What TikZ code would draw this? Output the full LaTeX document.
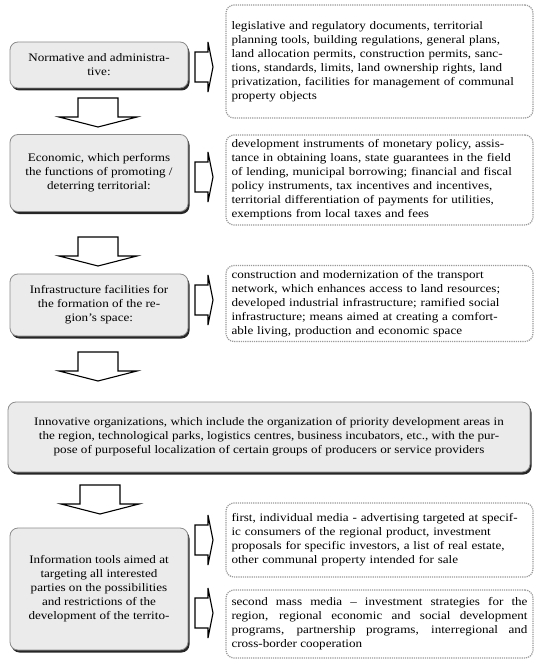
\documentclass[tikz,border=0pt]{standalone}
\usepackage{fontspec}
\setmainfont[FakeStretch=1.14]{Liberation Serif}
\usetikzlibrary{shadows}

\begin{document}
\begin{tikzpicture}[x=1pt,y=-1pt,thick,
  every node/.style={font=\fontsize{11.5}{14}\selectfont},
  tool/.style={draw=black!45,fill=black!8,rounded corners=8pt,align=center,minimum width=178pt,
    drop shadow={shadow xshift=1.5pt,shadow yshift=-2.5pt,fill=black!85,opacity=1}},
  means/.style={draw=black!40,line width=1.2pt,densely dotted,rounded corners=8pt,fill=white,
    align=left,text width=296pt,minimum width=307pt,inner xsep=4pt},
  rarrow/.pic={\draw[line width=1.1pt,fill=white,line join=miter]
    (0,0) -- (-5,-25) -- (-5,-15) -- (-18,-15) -- (-18,15) -- (-5,15) -- (-5,25) -- cycle;},
  darrow/.pic={\draw[line width=1.1pt,fill=white,line join=miter]
    (0,0) -- (-39,-10) -- (-20,-10) -- (-20,-29) -- (20,-29) -- (20,-10) -- (39,-10) -- cycle;}]
  \useasboundingbox (0,0) rectangle (537,663);

  \node[tool,minimum height=46pt] (l1) at (99,65) {Normative and administra-\\tive:};
  \node[tool,minimum height=77pt] (l2) at (99,173) {Economic, which performs\\the functions of promoting /\\deterring territorial:};
  \node[tool,minimum height=62pt] (l3) at (99,305) {Infrastructure facilities for\\the formation of the re-\\gion's space:};
  \node[tool,minimum width=522pt,minimum height=70pt] (w4) at (269,437) {Innovative organizations, which include the organization of priority development areas in\\the region, technological parks, logistics centres, business incubators, etc., with the pur-\\pose of purposeful localization of certain groups of producers or service providers};
  \node[tool,minimum height=122pt] (l5) at (99,589) {Information tools aimed at\\targeting all interested\\parties on the possibilities\\and restrictions of the\\development of the territo-};

  \node[means,minimum height=113pt] (r1) at (379.5,61.5) {legislative and regulatory documents, territorial\\planning tools, building regulations, general plans,\\land allocation permits, construction permits, sanc-\\tions, standards, limits, land ownership rights, land\\privatization, facilities for management of communal\\property objects};
  \node[means,minimum height=90pt] (r2) at (379.5,180) {development instruments of monetary policy, assis-\\tance in obtaining loans, state guarantees in the field\\of lending, municipal borrowing; financial and fiscal\\policy instruments, tax incentives and incentives,\\territorial differentiation of payments for utilities,\\exemptions from local taxes and fees};
  \node[means,minimum height=76pt] (r3) at (379.5,303.5) {construction and modernization of the transport\\network, which enhances access to land resources;\\developed industrial infrastructure; ramified social\\infrastructure; means aimed at creating a comfort-\\able living, production and economic space};
  \node[means,minimum height=74pt] (r5a) at (379.5,540) {first, individual media - advertising targeted at specif-\\ic consumers of the regional product, investment\\proposals for specific investors, a list of real estate,\\other communal property intended for sale};
  \node[means,align=justify,minimum height=68pt] (r5b) at (379.5,624) {second mass media -- investment strategies for the\linebreak region, regional economic and social development\linebreak programs, partnership programs, interregional and\linebreak cross-border cooperation};

  \pic (a1) at (213,67) {rarrow};
  \pic (a2) at (213,177) {rarrow};
  \pic (a3) at (213,300) {rarrow};
  \pic (a5a) at (213,540) {rarrow};
  \pic (a5b) at (213,613) {rarrow};

  \pic (d1) at (98,127) {darrow};
  \pic (d2) at (98,266) {darrow};
  \pic (d3) at (98,381) {darrow};
  \pic (d4) at (100,514) {darrow};
\end{tikzpicture}
\end{document}
